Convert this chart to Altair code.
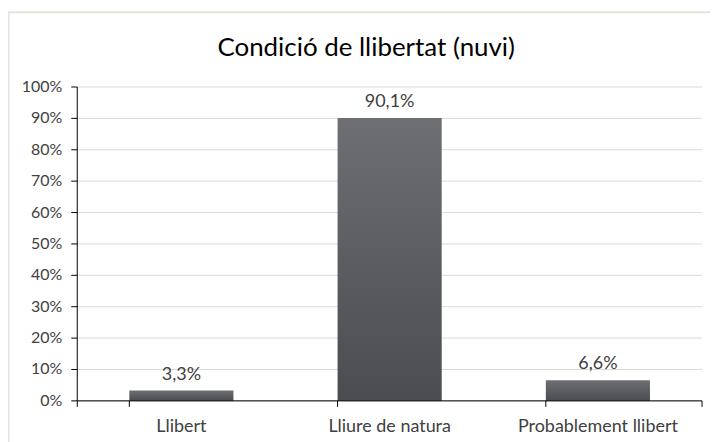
import altair as alt
import pandas as pd

categories = ["Llibert", "Lliure de natura", "Probablement llibert"]
values = [3.3, 90.1, 6.6]
labels = [f"{v:.1f}".replace(".", ",") + "%" for v in values]
y_ticks = [0, 10, 20, 30, 40, 50, 60, 70, 80, 90, 100]
y_tick_labels = [f"{t}%" for t in y_ticks]
title_text = "Condició de llibertat (nuvi)"

df = pd.DataFrame({"cat": categories, "val": values, "lab": labels})
ticks_df = pd.DataFrame({"val": y_ticks, "lab": y_tick_labels})

FONT = "Lato"
W, H = 627, 315

xs = alt.Scale(domain=categories, paddingInner=0.5, paddingOuter=0.25)
ys = alt.Scale(domain=[0, 100])

x = alt.X("cat:N", sort=categories, title=None, scale=xs, axis=None)
y = alt.Y("val:Q", title=None, scale=ys, axis=None)

grid = alt.Chart(ticks_df).mark_rule(color="#d9d9d9", strokeWidth=1).encode(
    y=y, x=alt.value(0), x2=alt.value(W))

bars = alt.Chart(df).mark_bar(
    color=alt.Gradient(gradient="linear", x1=0, y1=0, x2=0, y2=1,
                       stops=[alt.GradientStop(color="#6e6f73", offset=0),
                              alt.GradientStop(color="#4b4c50", offset=1)])
).encode(x=x, y=y)

text = alt.Chart(df).mark_text(dy=-16, fontSize=18, color="#404040", font=FONT).encode(
    x=x, y=y, text="lab:N")

y_tick_marks = alt.Chart(ticks_df).mark_rule(color="#000000").encode(
    y=y, x=alt.value(-6), x2=alt.value(0))

y_labels = alt.Chart(ticks_df).mark_text(fontSize=16, color="#404040", font=FONT,
                                         align="right", baseline="middle").encode(
    y=y, x=alt.value(-15), text="lab:N")

y_domain = alt.Chart(df.head(1)).mark_rule(color="#000000").encode(
    x=alt.value(0), y=alt.value(0), y2=alt.value(H + 6))

x_domain = alt.Chart(df.head(1)).mark_rule(color="#000000").encode(
    x=alt.value(0), x2=alt.value(W), y=alt.value(H))

x_tick_marks = alt.Chart(df).mark_rule(color="#000000").encode(
    x=alt.X("cat:N", sort=categories, scale=xs, axis=None, bandPosition=0),
    y=alt.value(H), y2=alt.value(H + 6))

end_tick = alt.Chart(df.head(1)).mark_rule(color="#000000").encode(
    x=alt.value(W), y=alt.value(H), y2=alt.value(H + 6))

x_labels = alt.Chart(df).mark_text(fontSize=18, color="#404040", font=FONT,
                                   align="center", baseline="middle").encode(
    x=x, y=alt.value(H + 26), text="cat:N")

border = alt.Chart(df.head(1)).mark_rect(fill=None, stroke="#e3e6da", strokeWidth=2).encode(
    x=alt.value(-69), x2=alt.value(W + 20), y=alt.value(-75), y2=alt.value(H + 60))

title = alt.Chart(df.head(1)).mark_text(fontSize=26, font=FONT, color="#000000",
                                        align="center", baseline="middle").encode(
    x=alt.value(290), y=alt.value(-39), text=alt.value(title_text))

chart = alt.layer(
    border, grid, bars, text, y_tick_marks, y_labels, y_domain, x_domain,
    x_tick_marks, end_tick, x_labels, title
).properties(
    width=W, height=H,
    padding={"left": 69.5, "top": 78.5, "right": 8, "bottom": 40},
    autosize=alt.AutoSizeParams(type="none"),
).configure(
    background="white", font=FONT
).configure_view(
    stroke=None
)

chart.save("out.html", embed_options={"renderer": "svg", "actions": False})
